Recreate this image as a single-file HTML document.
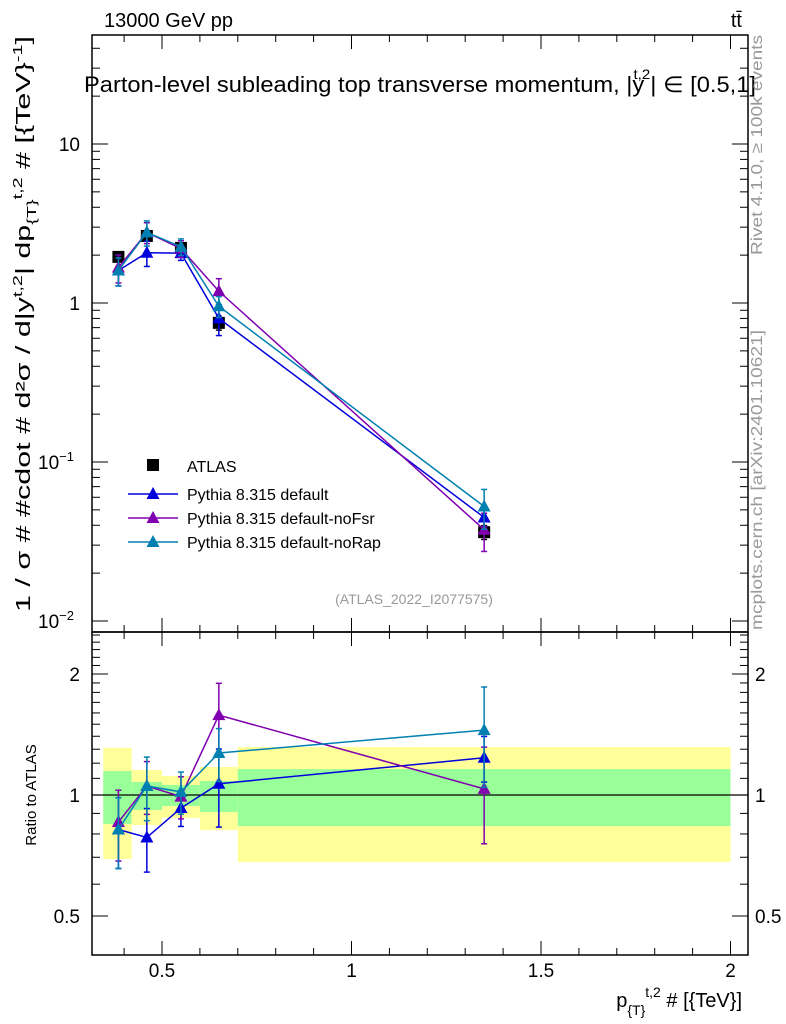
<!DOCTYPE html>
<html><head><meta charset="utf-8"><style>
body{margin:0;background:#fff}
svg{display:block;font-family:"Liberation Sans",sans-serif}
</style></head><body>
<svg id="c" width="786" height="1024" viewBox="0 0 786 1024"></svg>
<script>
const binEdges=[0.345,0.42,0.5,0.6,0.7,2.0];
const xVals=[0.385,0.46,0.55,0.65,1.35];
const atlasVals=[1.95,2.64,2.22,0.75,0.0362];
const atlasErr=[0.05,0.05,0.05,0.1,0.1];
const defVals=[1.60,2.07,2.06,0.80,0.0448];
const defErr=[0.20,0.18,0.10,0.22,0.13];
const noFsrVals=[1.67,2.78,2.20,1.185,0.0375];
const noFsrErr=[0.20,0.15,0.12,0.20,0.27];
const noRapVals=[1.60,2.78,2.26,0.954,0.0525];
const noRapErr=[0.20,0.18,0.12,0.15,0.28];
const yellowHi=[1.31,1.154,1.115,1.174,1.316];
const yellowLo=[0.693,0.842,0.877,0.818,0.681];
const greenHi=[1.147,1.077,1.059,1.083,1.16];
const greenLo=[0.847,0.918,0.939,0.907,0.837];
const xTicks=[0.5,1,1.5,2];
const xTickLabels=["0.5","1","1.5","2"];
const ratioTicks=[0.5,1,2];
const ratioTickLabels=["0.5","1","2"];

const svg=document.getElementById('c');
const NS='http://www.w3.org/2000/svg';
function el(t,a,p){const e=document.createElementNS(NS,t);for(const k in a)e.setAttribute(k,a[k]);(p||svg).appendChild(e);return e;}
const L=92,R=748,T=35,M=632,B=955;
const X=v=>-27.5+379*v;
const Y=v=>303-159*Math.log10(v);
const RY=v=>795-402*Math.log10(v);

for(let i=0;i<5;i++){
  const x0=X(binEdges[i]),x1=X(binEdges[i+1]);
  const y=el('rect',{x:x0,y:RY(yellowHi[i]),width:x1-x0,height:RY(yellowLo[i])-RY(yellowHi[i]),fill:'#ffff99'});
  
  
  const g=el('rect',{x:x0,y:RY(greenHi[i]),width:x1-x0,height:RY(greenLo[i])-RY(greenHi[i]),fill:'#99ff99'});
  
  
}
el('line',{x1:L,x2:R,y1:RY(1),y2:RY(1),stroke:'#000','stroke-width':1.2});

const f1=el('rect',{x:L,y:T,width:R-L,height:M-T,fill:'none',stroke:'#000','stroke-width':1.5});


const f2=el('rect',{x:L,y:M,width:R-L,height:B-M,fill:'none',stroke:'#000','stroke-width':1.5});



for(let k=4;k<=20;k++){const v=k/10,x=X(v);const maj=(k%5===0);const len=maj?14:7;
  for(const [yt,yb] of [[T,M],[M,B]]){el('line',{x1:x,x2:x,y1:yt,y2:yt+len,stroke:'#000'});el('line',{x1:x,x2:x,y1:yb,y2:yb-len,stroke:'#000'});}
}
xTicks.forEach((v,i)=>{const t=el('text',{x:X(v),y:977,'text-anchor':'middle','font-size':19});t.textContent=xTickLabels[i];

});
for(let d=-2;d<=1;d++){for(let m=1;m<10;m++){const v=m*Math.pow(10,d);const y=Y(v);if(y<T||y>M)continue;const len=m===1?16:8;
  el('line',{x1:L,x2:L+len,y1:y,y2:y,stroke:'#000'});el('line',{x1:R,x2:R-len,y1:y,y2:y,stroke:'#000'});}}
[[10,'10'],[1,'1'],[0.1,'10'],[0.01,'10']].forEach(([v,s],i)=>{const t=el('text',{x:80,y:Y(v)+7,'text-anchor':'end','font-size':19});
 t.textContent=s; if(i>=2){t.setAttribute('text-anchor','start');t.setAttribute('x',38);const ts=el('tspan',{dy:-8,'font-size':13},t);ts.textContent=i==2?'−1':'−2';}
 
 });
for(let k=4;k<=25;k++){const v=k/10;const y=RY(v);if(y<M||y>B)continue;const maj=(v===0.5||v===1||v===2);const len=maj?16:8;
  el('line',{x1:L,x2:L+len,y1:y,y2:y,stroke:'#000'});el('line',{x1:R,x2:R-len,y1:y,y2:y,stroke:'#000'});}
ratioTicks.forEach((v,i)=>{for(const [x,a] of [[80,'end'],[755,'start']]){const t=el('text',{x:x,y:RY(v)+7,'text-anchor':a,'font-size':19});t.textContent=ratioTickLabels[i];
 
 }});

const series=[
 {name:'pythia-default',vals:defVals,err:defErr,col:'#0000dd'},
 {name:'pythia-nofsr',vals:noFsrVals,err:noFsrErr,col:'#8000b0'},
 {name:'pythia-norap',vals:noRapVals,err:noRapErr,col:'#0080b0'}];
function tri(x,y,c,g,n){const p=el('polygon',{points:`${x},${y-7} ${x-6.5},${y+5} ${x+6.5},${y+5}`,fill:c},g);
 
 }
function ebar(x,y1,y2,c,g){el('line',{x1:x,x2:x,y1:y1,y2:y2,stroke:c,'stroke-width':1.5},g);el('line',{x1:x-3,x2:x+3,y1:y1,y2:y1,stroke:c,'stroke-width':1.5},g);el('line',{x1:x-3,x2:x+3,y1:y2,y2:y2,stroke:c,'stroke-width':1.5},g);}
const ga=el('g',{});


atlasVals.forEach((v,i)=>{ebar(X(xVals[i]),Y(v*(1+atlasErr[i])),Y(v*(1-atlasErr[i])),'#000',ga);
 const r=el('rect',{x:X(xVals[i])-6,y:Y(v)-6,width:12,height:12,fill:'#000'},ga);
 
 });
series.forEach(s=>{
 const g=el('g',{});
 
 el('polyline',{points:s.vals.map((v,i)=>X(xVals[i])+','+Y(v)).join(' '),fill:'none',stroke:s.col,'stroke-width':1.5},g);
 s.vals.forEach((v,i)=>{ebar(X(xVals[i]),Y(v*(1+s.err[i])),Y(v*(1-s.err[i])),s.col,g);tri(X(xVals[i]),Y(v),s.col,g,'marker');});
 const gr=el('g',{});
 
 const rv=s.vals.map((v,i)=>v/atlasVals[i]);
 el('polyline',{points:rv.map((v,i)=>X(xVals[i])+','+RY(v)).join(' '),fill:'none',stroke:s.col,'stroke-width':1.5},gr);
 rv.forEach((v,i)=>{ebar(X(xVals[i]),RY(v*(1+s.err[i])),RY(v*(1-s.err[i])),s.col,gr);tri(X(xVals[i]),RY(v),s.col,gr,'ratio-marker');});
});

const lg=el('g',{});

el('rect',{x:147,y:459,width:12,height:12,fill:'#000'},lg);
let t=el('text',{x:187,y:472,'font-size':16},lg);t.textContent='ATLAS';
[['Pythia 8.315 default','#0000dd'],['Pythia 8.315 default-noFsr','#8000b0'],['Pythia 8.315 default-noRap','#0080b0']].forEach(([n,c],i)=>{
 const y=494+i*24;el('line',{x1:128,x2:178,y1:y,y2:y,stroke:c,'stroke-width':1.5},lg);tri(153,y,c,lg,'legend-marker');
 const tt=el('text',{x:187,y:y+6,'font-size':16},lg);tt.textContent=n;
 
 });
</script>
<svg width="786" height="1024" style="position:absolute;left:0;top:0">
<text x="104" y="27" font-size="20" font-family="Liberation Sans">13000 GeV pp</text>
<text x="742" y="27" font-size="20" text-anchor="end" font-family="Liberation Sans">tt̄</text>
<text x="84" y="92" font-size="22" font-family="Liberation Sans" textLength="672" lengthAdjust="spacingAndGlyphs">Parton-level subleading top transverse momentum, |y<tspan font-size="14" dy="-13" dx="-10">t,2</tspan><tspan dy="13">| ∈ [0.5,1]</tspan></text>
<text x="414" y="604" font-size="14" fill="#999" text-anchor="middle" font-family="Liberation Sans">(ATLAS_2022_I2077575)</text>
<text transform="translate(30,612) rotate(-90)" font-size="20" textLength="576" lengthAdjust="spacingAndGlyphs" font-family="Liberation Sans">1 / σ # #cdot # d²σ / d|y<tspan font-size="13" dy="-8">t,2</tspan><tspan dy="8">| dp</tspan><tspan font-size="13" dy="6">{T}</tspan><tspan font-size="13" dy="-14">t,2</tspan><tspan dy="8"> # [{TeV}</tspan><tspan font-size="13" dy="-8">-1</tspan><tspan dy="8">]</tspan></text>
<text transform="translate(36,795) rotate(-90)" font-size="15" text-anchor="middle" font-family="Liberation Sans">Ratio to ATLAS</text>
<text x="742" y="1007" font-size="20" text-anchor="end" font-family="Liberation Sans">p<tspan font-size="14" dy="8">{T}</tspan><tspan font-size="14" dy="-18">t,2</tspan><tspan dy="10"> # [{TeV}]</tspan></text>
<text transform="translate(762,255) rotate(-90)" font-size="16" fill="#999" textLength="220" lengthAdjust="spacingAndGlyphs" font-family="Liberation Sans">Rivet 4.1.0, ≥ 100k events</text>
<text transform="translate(762,630) rotate(-90)" font-size="16" fill="#999" textLength="300" lengthAdjust="spacingAndGlyphs" font-family="Liberation Sans">mcplots.cern.ch [arXiv:2401.10621]</text>
</svg>
</body></html>
